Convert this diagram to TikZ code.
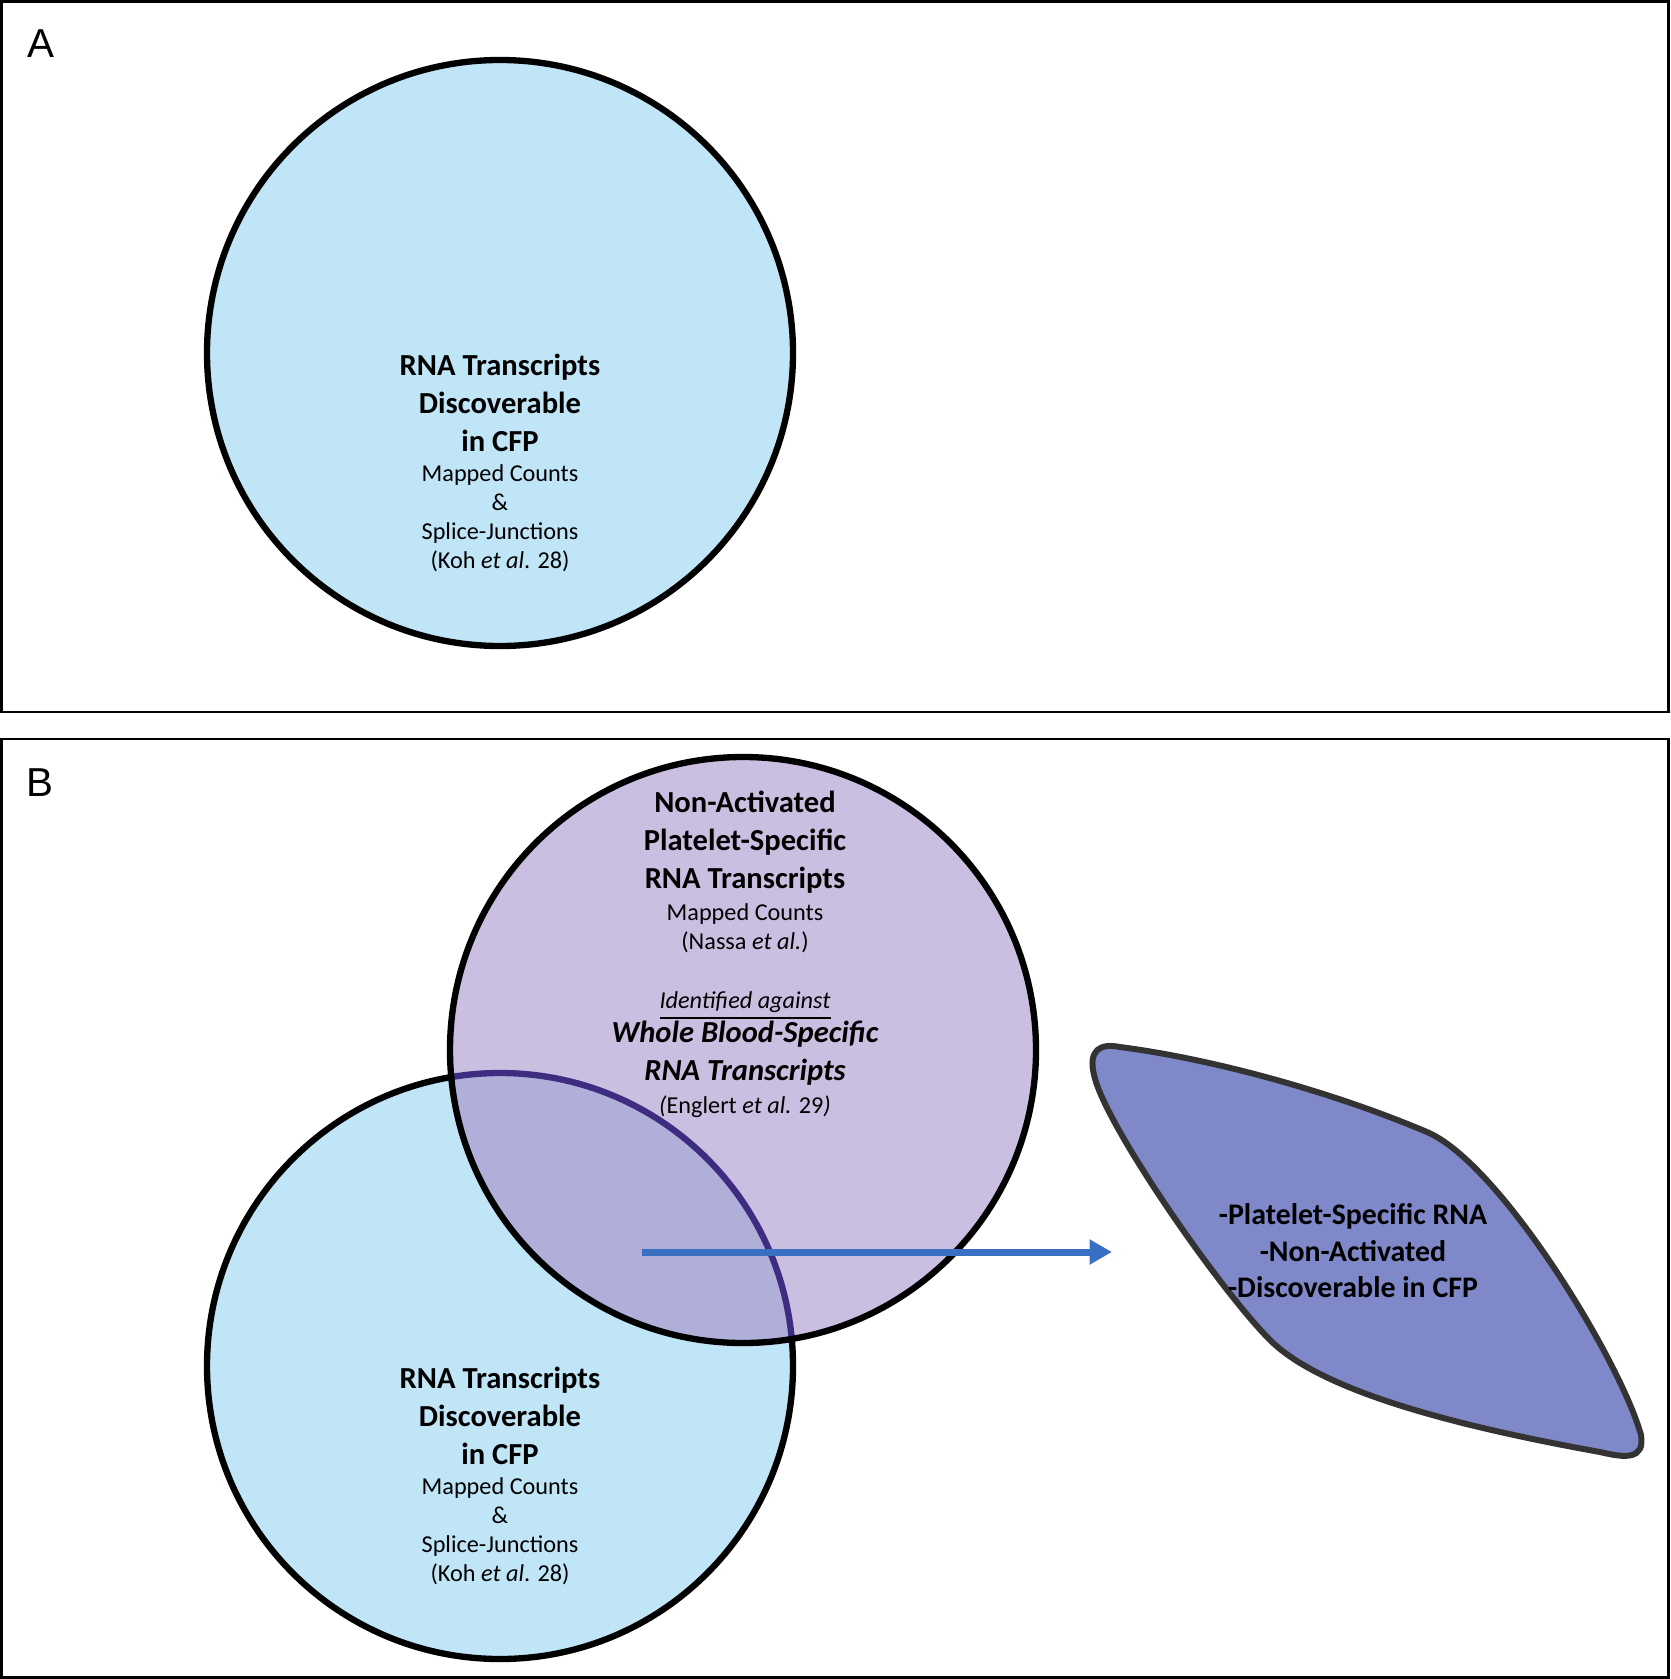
\documentclass[tikz,border=0pt]{standalone}
\usepackage{fontspec}
\setmainfont{Carlito}
\newfontfamily\labelfont{Liberation Sans}
\usetikzlibrary{arrows.meta}

\definecolor{cfpblue}{RGB}{192,229,247}
\definecolor{plateletpurple}{RGB}{202,191,225}
\definecolor{overlapviolet}{RGB}{176,175,217}
\definecolor{innerrim}{RGB}{62,44,128}
\definecolor{lensblue}{RGB}{127,136,200}
\definecolor{lensrim}{RGB}{51,51,51}
\definecolor{arrowblue}{RGB}{58,112,196}

\tikzset{
	panel/.style={draw=black, line width=0.7pt},
	venn/.style={draw=black, line width=1.8pt},
	headtxt/.style={font=\bfseries\fontsize{8.7}{10.8}\selectfont, align=center, inner sep=0pt},
	subtxt/.style={font=\fontsize{6.9}{8.25}\selectfont, align=center, inner sep=0pt},
	lenstxt/.style={font=\bfseries\fontsize{8.5}{10.4}\selectfont, align=center, inner sep=0pt},
	panellabel/.style={font=\labelfont\fontsize{11.5}{13}\selectfont, inner sep=0pt}
}

\begin{document}
\begin{tikzpicture}[x=0.1mm, y=-0.1mm]
		\useasboundingbox (0,0) rectangle (1670,1679);
		
		% panel frames
		\draw[panel] (1.5,1.5) rectangle (1668.5,712);
		\draw[panel] (1.5,739) rectangle (1668.5,1677.5);
		\node[panellabel] (labA) at (41,44) {A};
		\node[panellabel] (labB) at (40,783) {B};
		
		% panel A
		\draw[venn, fill=cfpblue] (500,353) circle [radius=293];
		\node[headtxt] (headA) at (500,403) {RNA Transcripts\\Discoverable\\in CFP};
		\node[subtxt] (subA) at (500,518) {Mapped Counts\\\&\\Splice-Junctions\\(Koh \textit{et al}. 28)};
		
		% panel B
		\draw[venn, fill=cfpblue] (500,1366) circle [radius=293];
		\fill[plateletpurple] (743,1050) circle [radius=293];
		\begin{scope}
			\clip (743,1050) circle [radius=293];
			\fill[overlapviolet] (500,1366) circle [radius=293];
			\draw[venn, draw=innerrim] (500,1366) circle [radius=293];
		\end{scope}
		\draw[venn] (743,1050) circle [radius=293];
		
		\node[headtxt] (headP) at (745,842) {Non-Activated\\Platelet-Specific\\RNA Transcripts};
		\node[subtxt] (subP) at (745,928) {Mapped Counts\\(Nassa \textit{et al.})};
		\node[subtxt] (vsP) at (745,1006) {\textit{\underline{Identified against}}};
		\node[headtxt, font=\bfseries\itshape\fontsize{8.7}{10.8}\selectfont] (headW) at (745,1053) {Whole Blood-Specific\\RNA Transcripts};
		\node[subtxt] (refW) at (745,1107) {\textit{(}Englert \textit{et al.} 29\textit{)}};
		
		\node[headtxt] (headB) at (500,1416) {RNA Transcripts\\Discoverable\\in CFP};
		\node[subtxt] (subB) at (500,1531) {Mapped Counts\\\&\\Splice-Junctions\\(Koh \textit{et al}. 28)};
		
		% result lens
		\draw[fill=lensblue, draw=lensrim, line width=1.7pt]
			(1120,1047) .. controls (1220,1060) and (1340,1095) .. (1427,1132)
			.. controls (1500,1163) and (1620,1360) .. (1641,1435)
			.. controls (1645,1460) and (1625,1458) .. (1600,1452)
			.. controls (1450,1425) and (1320,1390) .. (1270,1340)
			.. controls (1220,1290) and (1105,1125) .. (1094,1075)
			.. controls (1088,1050) and (1100,1043) .. cycle;
		\node[lenstxt] (lens) at (1353,1251) {-Platelet-Specific RNA\\-Non-Activated\\-Discoverable in CFP};
		
		% arrow
		\coordinate (arrowstart) at (642,1252);
		\coordinate (arrowend) at (1112,1252);
		\draw[arrowblue, line width=2pt, -{Triangle[length=6.4pt, width=6.8pt]}] (arrowstart) -- (arrowend);
\end{tikzpicture}
\end{document}
